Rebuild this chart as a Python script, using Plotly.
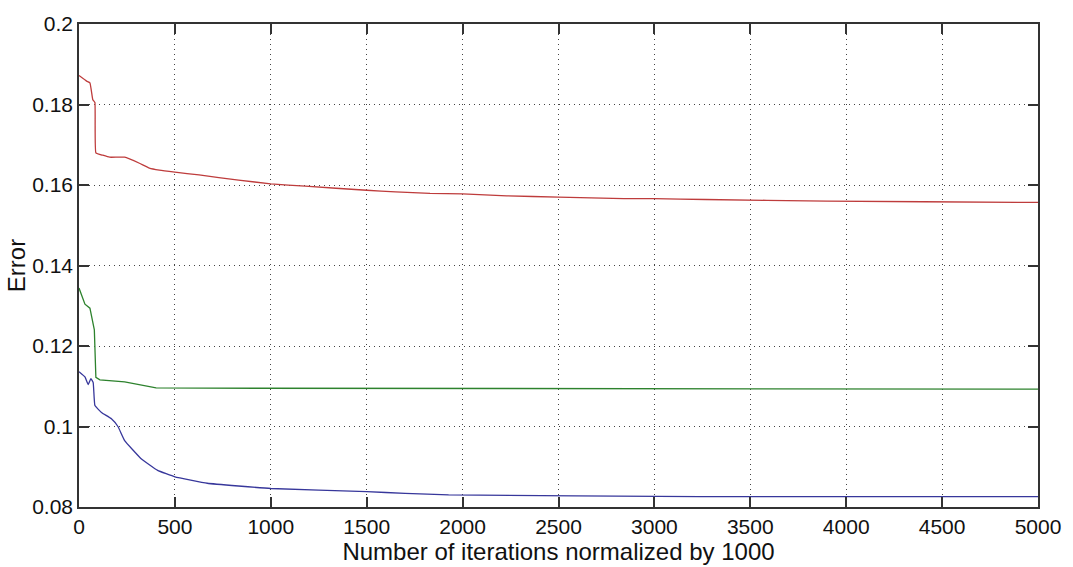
import plotly.graph_objects as go

# Red series
red_x = [0, 40, 57, 72, 83, 88, 124, 160, 238, 315, 367, 419, 500, 626, 832, 1000, 1180, 1500,
         1650, 1830, 2000, 2230, 2500, 2840, 3000, 3265, 3900, 4910, 5000]
red_y = [0.1872, 0.1858, 0.1854, 0.1812, 0.1805, 0.1680, 0.1674, 0.1669, 0.1669, 0.1654, 0.1642,
         0.1637, 0.1632, 0.1625, 0.1612, 0.1603, 0.1597, 0.1587, 0.1583, 0.1579, 0.1578, 0.1573,
         0.1570, 0.1566, 0.1566, 0.1564, 0.1560, 0.1557, 0.1557]

# Green series
green_x = [0, 31, 57, 72, 80, 88, 109, 238, 402, 930, 5000]
green_y = [0.1344, 0.1304, 0.1294, 0.1254, 0.1240, 0.1122, 0.1116, 0.1111, 0.1096, 0.1095, 0.1093]

# Blue series
blue_x = [0, 31, 48, 62, 74, 83, 117, 169, 203, 238, 324, 410, 500, 669, 1000, 1500, 1700,
          1927, 3235, 5000]
blue_y = [0.1136, 0.1123, 0.1104, 0.1119, 0.1109, 0.1052, 0.1035, 0.1019, 0.1000, 0.0965,
          0.0920, 0.0891, 0.0875, 0.0859, 0.0846, 0.0838, 0.0834, 0.0830, 0.0826, 0.0826]

x_ticks = [0, 500, 1000, 1500, 2000, 2500, 3000, 3500, 4000, 4500, 5000]
y_ticks = [0.08, 0.1, 0.12, 0.14, 0.16, 0.18, 0.2]
y_labels = ["0.08", "0.1", "0.12", "0.14", "0.16", "0.18", "0.2"]

FONT = "Liberation Sans, Arial, sans-serif"

fig = go.Figure()
fig.add_trace(go.Scatter(x=red_x, y=red_y, mode="lines", line_shape="spline",
                         line=dict(color="rgb(190,60,60)", width=1.3, smoothing=0.3), showlegend=False))
fig.add_trace(go.Scatter(x=green_x, y=green_y, mode="lines",
                         line=dict(color="rgb(45,130,45)", width=1.3), showlegend=False))
fig.add_trace(go.Scatter(x=blue_x, y=blue_y, mode="lines", line_shape="spline",
                         line=dict(color="rgb(55,55,155)", width=1.3, smoothing=0.3), showlegend=False))

axis_common = dict(
    showline=True, linecolor="#333", linewidth=1.5, mirror="ticks",
    ticks="inside", ticklen=10, tickcolor="#333", tickwidth=1.5,
    showgrid=True, gridcolor="#444", griddash="1px,4px", gridwidth=1,
    zeroline=False,
    tickfont=dict(family=FONT, size=21, color="#111"),
)

fig.update_xaxes(range=[0, 5000], tickvals=x_ticks,
                 title=dict(text="Number of iterations normalized by 1000",
                            font=dict(family=FONT, size=24, color="#111"),
                            standoff=0),
                 **axis_common)
fig.update_yaxes(range=[0.08, 0.2], tickvals=y_ticks, ticktext=y_labels,
                 title=dict(text="Error",
                            font=dict(family=FONT, size=24, color="#111"),
                            standoff=0),
                 **axis_common)

fig.update_layout(
    width=1073, height=567,
    margin=dict(l=79, r=27, t=21, b=60),
    paper_bgcolor="white", plot_bgcolor="white",
)

fig.write_html("out.html")
